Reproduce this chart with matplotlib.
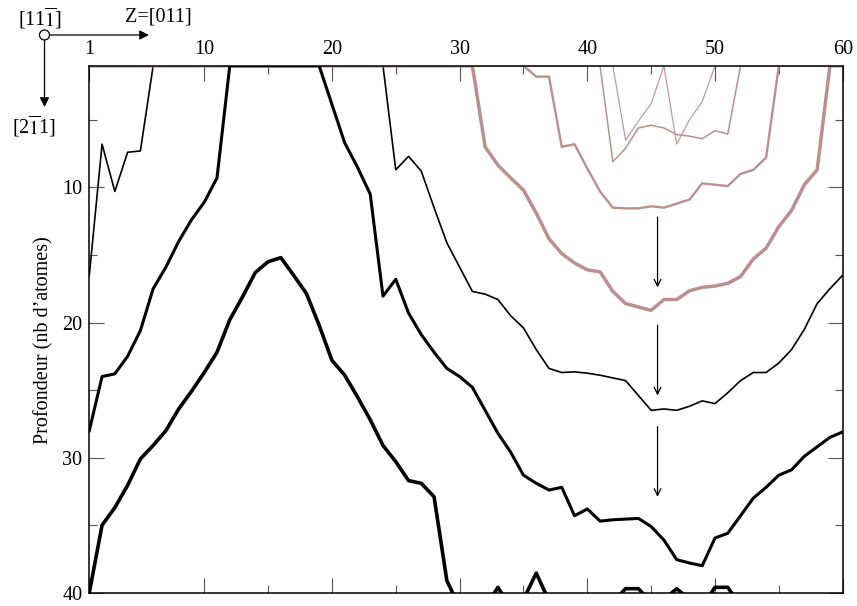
import matplotlib
matplotlib.use("Agg")
import matplotlib.pyplot as plt
import numpy as np
from matplotlib.patches import Circle

plt.rcParams['font.family'] = ['Liberation Serif', 'DejaVu Serif']
plt.rcParams['mathtext.fontset'] = 'stix'

# Z position (atomic column along [011])
z = np.arange(1, 61)

# depth curves (nb of atoms), values past 40 are cut by the frame
thin_black = [16.5, 6.8, 10.3, 7.4, 7.3, 1, 1, 1, 1, 1,
              1, 1, 1, 1, 1, 1, 1, 1, 1, 1,
              1, 1, 1, 1, 8.7, 7.7, 8.8, 11.5, 14.1, 15.9,
              17.7, 17.9, 18.3, 19.5, 20.4, 22.0, 23.4, 23.7, 23.65, 23.75,
              23.9, 24.1, 24.3, 25.4, 26.5, 26.4, 26.5, 26.2, 25.8, 26.0,
              25.2, 24.3, 23.7, 23.7, 23.0, 22.0, 20.5, 18.6, 17.5, 16.5]

mid_black = [28.0, 24.0, 23.8, 22.5, 20.6, 17.5, 15.9, 14.0, 12.4, 11.1,
             9.3, 1, 1, 1, 1, 1, 1, 1, 1, 3.85,
             6.7, 8.5, 10.5, 18.05, 16.8, 19.3, 20.9, 22.2, 23.4, 24.0,
             24.8, 26.5, 28.2, 29.6, 31.3, 31.9, 32.4, 32.2, 34.3, 33.8,
             34.7, 34.6, 34.55, 34.5, 35.1, 36.1, 37.55, 37.8, 38.0, 35.95,
             35.6, 34.3, 33.0, 32.2, 31.3, 30.9, 29.9, 29.2, 28.5, 28.1]

deep_black = [40.0, 35.0, 33.7, 32.05, 30.1, 29.1, 28.0, 26.4, 25.1, 23.7,
              22.2, 19.8, 18.1, 16.3, 15.5, 15.2, 16.5, 17.85, 20.2, 22.8,
              23.9, 25.5, 27.2, 29.1, 30.3, 31.7, 31.9, 32.9, 39.1, 41.1,
              41.5, 41.1, 39.6, 41.1, 40.5, 38.55, 40.6, 41.5, 41.5, 41.5,
              41.5, 40.7, 39.7, 39.7, 40.7, 40.5, 39.7, 40.5, 41.0, 39.6,
              39.6, 41.0, 41.5, 41.5, 41.5, 41.5, 41.5, 41.5, 41.5, 41.5]

pink_1 = [1] * 31 + [7.0, 8.35, 9.3, 10.2, 11.9, 13.8, 14.9, 15.6, 16.1,
                     16.25, 17.7, 18.6, 18.85, 19.1, 18.3, 18.3, 17.65, 17.4, 17.3,
                     17.1, 16.6, 15.3, 14.5, 12.9, 11.7, 9.8, 8.7, 1, 1]

pink_2 = [1] * 35 + [1.8, 1.8, 7.0, 6.8, 8.6,
                     10.3, 11.5, 11.55, 11.55, 11.4, 11.5, 11.2, 10.9, 9.7, 9.8,
                     9.9, 9.0, 8.7, 7.8, 1, 1, 1, 1, 1, 1]

pink_3 = [1] * 41 + [8.1, 7.1, 5.6, 5.4, 5.6, 6.1, 6.2, 6.4, 5.8,
                     6.05, 1, 1, 1, 1, 1, 1, 1, 1, 1]

pink_4 = [1] * 42 + [6.5, 5.1, 3.8, 1, 6.8, 5.0, 3.65, 1,
                     1, 1, 1, 1, 1, 1, 1, 1, 1, 1]

# vertical arrows showing the shift of the fronts
arrow_z = 45.5
arrow_spans = [(12.2, 17.4), (20.2, 25.4), (27.7, 32.9)]

pink = '#bc8f8f'

fig = plt.figure(figsize=(8.57, 6.06), dpi=100)
ax = fig.add_axes([0.1042, 0.0219, 0.8791, 0.8695])

ax.plot(z, thin_black, color='black', lw=1.2, zorder=2.0)
ax.plot(z, pink_4, color=pink, lw=0.8, zorder=2.1)
ax.plot(z, pink_3, color=pink, lw=1.1, zorder=2.1)
ax.plot(z, pink_2, color=pink, lw=1.7, zorder=2.1)
ax.plot(z, pink_1, color=pink, lw=2.5, zorder=2.1)
ax.plot(z, mid_black, color='black', lw=2.2, zorder=2.2)
ax.plot(z, deep_black, color='black', lw=2.6, zorder=2.2)

for y0, y1 in arrow_spans:
    ax.annotate('', xy=(arrow_z, y1), xytext=(arrow_z, y0),
                arrowprops=dict(arrowstyle='->', lw=0.9, color='black',
                                mutation_scale=12, shrinkA=0, shrinkB=0))

ax.set_xlim(1, 60)
ax.set_ylim(40, 1)

ax.set_xticks([1, 10, 20, 30, 40, 50, 60])
ax.set_xticks([15, 25, 35, 45, 55], minor=True)
ax.set_yticks([10, 20, 30, 40])
ax.set_yticks([5, 15, 25, 35], minor=True)

ax.tick_params(which='both', direction='in', top=True, bottom=True,
               left=True, right=True, labeltop=True, labelbottom=False,
               color='#555555', width=0.8, labelsize=14.5, pad=5)
ax.tick_params(which='major', length=10.5)
ax.tick_params(which='minor', length=5.5)

for s in ax.spines.values():
    s.set_linewidth(1.1)

ax.set_ylabel('Profondeur (nb d’atomes)', fontsize=14.5)
ax.yaxis.set_label_coords(-0.048, 0.48)

# crystal axes sketch, top left (figure pixels)
H = 606
circ = Circle((0.445, (H - 35) / 100), 0.05, transform=fig.dpi_scale_trans,
              fill=False, lw=0.9, color='black')
fig.add_artist(circ)
fig.add_artist(matplotlib.patches.FancyArrowPatch(
    (50 / 100, (H - 35) / 100), (149 / 100, (H - 35) / 100),
    transform=fig.dpi_scale_trans, arrowstyle='-|>', mutation_scale=14,
    lw=0.9, color='black', shrinkA=0, shrinkB=0))
fig.add_artist(matplotlib.patches.FancyArrowPatch(
    (44.5 / 100, (H - 40) / 100), (44.5 / 100, (H - 107) / 100),
    transform=fig.dpi_scale_trans, arrowstyle='-|>', mutation_scale=14,
    lw=0.9, color='black', shrinkA=0, shrinkB=0))

fig.text(40 / 857, 1 - 18 / H, r'[11$\overline{1}$]', fontsize=14.5,
         ha='center', va='center')
fig.text(158 / 857, 1 - 17 / H, 'Z=[011]', fontsize=14.5,
         ha='center', va='center')
fig.text(34 / 857, 1 - 126 / H, r'[2$\overline{1}$1]', fontsize=14.5,
         ha='center', va='center')

fig.savefig('out.png', dpi=100)
